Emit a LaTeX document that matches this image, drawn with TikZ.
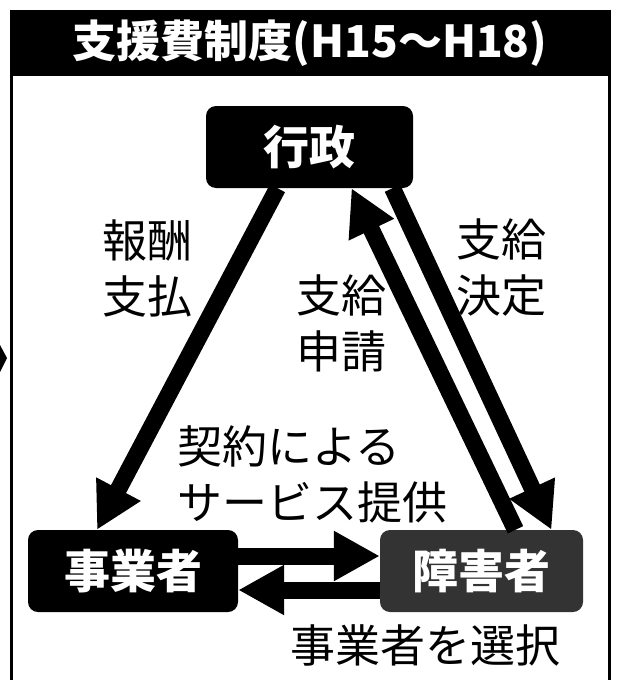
\documentclass[tikz,border=0pt]{standalone}
\usepackage{fontspec}
\setmainfont{Noto Sans CJK JP}
\usetikzlibrary{arrows.meta}

\begin{document}
\begin{tikzpicture}[x=1pt, y=-1pt,
  box/.style={rounded corners=10pt, minimum height=82pt, inner sep=0pt, text=white, font=\fontsize{46}{46}\selectfont\bfseries},
  lbl/.style={align=center, inner sep=0pt, font=\fontsize{45}{56}\selectfont},
  bigarrow/.style={line width=17pt, -{Triangle[length=46pt, width=47pt]}}]
\useasboundingbox (0,0) rectangle (619,680);
\fill (10,10) rectangle (611,76);
\node[text=white, inner sep=0pt, font=\fontsize{44}{44}\selectfont\bfseries] (t) at (310,43) {支援費制度(H15～H18)};
\draw[line width=3pt] (11.5,76) -- (11.5,680) (609.5,76) -- (609.5,680);
\fill (0,345) -- (7,358) -- (0,372) -- cycle;
\node[box, fill=black, minimum width=207pt] (g) at (309.5,147) {行政};
\node[box, fill=black, minimum width=210pt] (p) at (133,571) {事業者};
\node[box, fill=black!80, minimum width=203pt] (u) at (481.5,571) {障害者};
\draw[bigarrow] ([xshift=-32pt]g.south) -- ([xshift=-36pt]p.north);
\draw[bigarrow] ([xshift=83pt]g.south) -- ([xshift=70pt]u.north);
\draw[bigarrow] ([xshift=34pt]u.north) -- ([xshift=42pt]g.south);
\draw[bigarrow] ([yshift=15pt]p.east) -- ([yshift=15pt]u.west);
\draw[bigarrow] ([yshift=-19pt]u.west) -- ([yshift=-19pt]p.east);
\node[lbl] (a) at (147,268) {報酬\\支払};
\node[lbl] (b) at (341,323) {支給\\申請};
\node[lbl] (c) at (501,268) {支給\\決定};
\node[lbl, align=left, anchor=west] (d) at (177,474) {契約による\\サービス提供};
\node[lbl] (e) at (425,645) {事業者を選択};
\end{tikzpicture}
\end{document}
